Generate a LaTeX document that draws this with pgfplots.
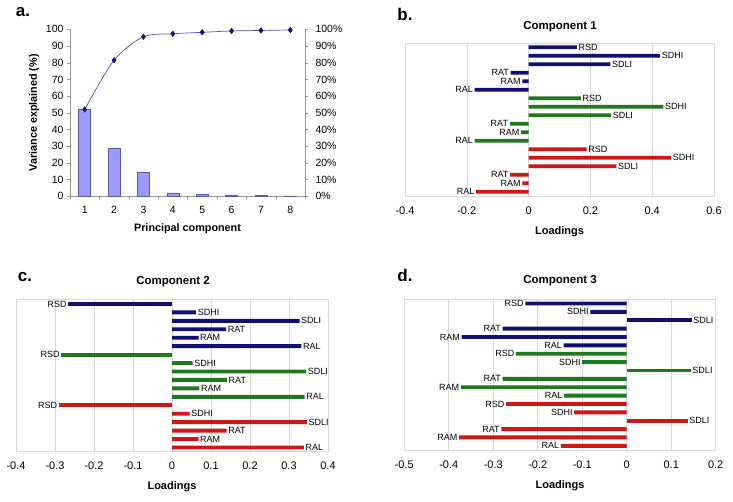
\documentclass[border=0pt]{standalone}
\usepackage{pgfplots}
\pgfplotsset{compat=1.18}
\usepackage{fontspec}
\setmainfont{Liberation Sans}
\definecolor{cnavy}{RGB}{16,16,112}
\definecolor{cgreen}{RGB}{30,120,30}
\definecolor{cred}{RGB}{210,20,20}
\definecolor{cbar}{RGB}{153,153,255}
\definecolor{cbaredge}{RGB}{90,90,170}
\definecolor{cline}{RGB}{80,80,200}
\definecolor{cgrid}{RGB}{215,215,215}
\definecolor{caxis}{RGB}{150,150,150}
\pgfplotsset{
 loadstyle/.style={
  scale only axis, xbar, bar width=3.9pt, bar shift=0pt,
  ymin=-18.5, ymax=-0.5, ytick=\empty,
  xmajorgrids, grid style={cgrid, line width=0.6pt},
  axis line style={cgrid, line width=0.6pt},
  xtick style={draw=none},
  tick label style={font=\fontsize{11}{11}\selectfont},
  xticklabel style={yshift=-7pt},
  /pgf/number format/assume math mode=true,
  xlabel={Loadings}, xlabel style={font=\fontsize{11}{11}\selectfont\bfseries, yshift=-5pt},
  nodes near coords, point meta=explicit symbolic,
  every node near coord/.append style={font=\fontsize{9}{9}\selectfont, inner sep=1.5pt, text=black},
  clip=false,
 },
 pos/.style={every node near coord/.append style={anchor=west}},
 neg/.style={every node near coord/.append style={anchor=east}},
 navybar/.style={fill=cnavy, draw=none},
 greenbar/.style={fill=cgreen, draw=none},
 redbar/.style={fill=cred, draw=none},
}
\begin{document}
\begin{tikzpicture}
\useasboundingbox (0,0) rectangle (733pt,501pt);
% ---------- panel a ----------
\node[font=\fontsize{17}{17}\selectfont\bfseries] at (23pt,489pt) {a.};
\begin{axis}[at={(70pt,304.7pt)}, anchor=south west, scale only axis,
  width=235pt, height=167pt, xmin=0.5, xmax=8.5, ymin=0, ymax=100,
  xtick={0.5,1.5,...,8.5}, xticklabels={},
  extra x ticks={1,2,3,4,5,6,7,8},
  extra x tick style={major tick length=0pt},
  ytick={0,10,...,100},
  axis x line*=bottom, axis y line*=left,
  axis line style={caxis, line width=0.6pt},
  tick align=outside, major tick length=3pt, tick style={caxis},
  tick label style={font=\fontsize{10.5}{10.5}\selectfont},
  xticklabel style={yshift=-6pt},
  /pgf/number format/assume math mode=true,
  xlabel={Principal component}, ylabel={Variance explained (\%)},
  label style={font=\fontsize{10.8}{10.8}\selectfont\bfseries},
  xlabel style={yshift=-1pt},
  clip=false]
\addplot[ybar, bar width=12pt, bar shift=0pt, fill=cbar, draw=cbaredge, line width=0.5pt]
 coordinates {(1,52) (2,29) (3,14.5) (4,2) (5,1) (6,0.8) (7,0.5) (8,0.3)};
\addplot[cline, line width=0.7pt, smooth, mark=diamond*, mark size=2.6pt,
  mark options={fill=cnavy, draw=cnavy}]
 coordinates {(1,52) (2,81.5) (3,95.5) (4,97.3) (5,98.2) (6,99) (7,99.3) (8,99.6)};
\end{axis}
\begin{axis}[at={(70pt,304.7pt)}, anchor=south west, scale only axis,
  width=235pt, height=167pt, xmin=0.5, xmax=8.5, ymin=0, ymax=100,
  axis x line=none, axis y line*=right, ytick={0,10,...,100},
  axis line style={caxis, line width=0.6pt},
  tick align=outside, major tick length=3pt, ytick style={caxis},
  yticklabel={\pgfmathprintnumber{\tick}\%},
  tick label style={font=\fontsize{10.5}{10.5}\selectfont},
  yticklabel style={xshift=4pt},
  /pgf/number format/assume math mode=true]
\addplot[draw=none] coordinates {(1,0)};
\end{axis}
% ---------- panel b ----------
\node[font=\fontsize{17}{17}\selectfont\bfseries] at (405pt,487pt) {b.};
\node[font=\fontsize{11.5}{11.5}\selectfont\bfseries] at (560pt,474pt) {Component 1};
\begin{axis}[loadstyle, at={(405pt,305pt)}, anchor=south west,
  width=309pt, height=153pt, xmin=-0.4, xmax=0.6,
  xtick={-0.4,-0.2,0,0.2,0.4,0.6}]
\addplot[navybar,pos] table[x=x, y=y, meta=l] {
x y l
0.156 -1 RSD
0.426 -2 SDHI
0.265 -3 SDLI
};
\addplot[navybar,neg] table[x=x, y=y, meta=l] {
x y l
-0.058 -4 RAT
-0.020 -5 RAM
-0.175 -6 RAL
};
\addplot[greenbar,pos] table[x=x, y=y, meta=l] {
x y l
0.169 -7 RSD
0.436 -8 SDHI
0.267 -9 SDLI
};
\addplot[greenbar,neg] table[x=x, y=y, meta=l] {
x y l
-0.061 -10 RAT
-0.024 -11 RAM
-0.175 -12 RAL
};
\addplot[redbar,pos] table[x=x, y=y, meta=l] {
x y l
0.188 -13 RSD
0.461 -14 SDHI
0.284 -15 SDLI
};
\addplot[redbar,neg] table[x=x, y=y, meta=l] {
x y l
-0.060 -16 RAT
-0.020 -17 RAM
-0.170 -18 RAL
};
\end{axis}
% ---------- panel c ----------
\node[font=\fontsize{17}{17}\selectfont\bfseries] at (25pt,224pt) {c.};
\node[font=\fontsize{11.5}{11.5}\selectfont\bfseries] at (173pt,219pt) {Component 2};
\begin{axis}[loadstyle, at={(16pt,49.3pt)}, anchor=south west,
  width=312pt, height=152pt, xmin=-0.4, xmax=0.4,
  xtick={-0.4,-0.3,-0.2,-0.1,0,0.1,0.2,0.3,0.4}]
\addplot[navybar,neg] table[x=x, y=y, meta=l] {
x y l
-0.266 -1 RSD
};
\addplot[navybar,pos] table[x=x, y=y, meta=l] {
x y l
0.062 -2 SDHI
0.327 -3 SDLI
0.139 -4 RAT
0.068 -5 RAM
0.332 -6 RAL
};
\addplot[greenbar,neg] table[x=x, y=y, meta=l] {
x y l
-0.284 -7 RSD
};
\addplot[greenbar,pos] table[x=x, y=y, meta=l] {
x y l
0.053 -8 SDHI
0.344 -9 SDLI
0.141 -10 RAT
0.070 -11 RAM
0.340 -12 RAL
};
\addplot[redbar,neg] table[x=x, y=y, meta=l] {
x y l
-0.290 -13 RSD
};
\addplot[redbar,pos] table[x=x, y=y, meta=l] {
x y l
0.045 -14 SDHI
0.346 -15 SDLI
0.140 -16 RAT
0.068 -17 RAM
0.338 -18 RAL
};
\end{axis}
% ---------- panel d ----------
\node[font=\fontsize{17}{17}\selectfont\bfseries] at (405pt,226pt) {d.};
\node[font=\fontsize{11.5}{11.5}\selectfont\bfseries] at (560pt,220pt) {Component 3};
\begin{axis}[loadstyle, at={(404.3pt,51pt)}, anchor=south west,
  width=311.4pt, height=150.7pt, xmin=-0.5, xmax=0.2,
  xtick={-0.5,-0.4,-0.3,-0.2,-0.1,0,0.1,0.2}]
\addplot[navybar,neg] table[x=x, y=y, meta=l] {
x y l
-0.228 -1 RSD
-0.082 -2 SDHI
-0.279 -4 RAT
-0.371 -5 RAM
-0.142 -6 RAL
};
\addplot[navybar,pos] table[x=x, y=y, meta=l] {
x y l
0.146 -3 SDLI
};
\addplot[greenbar,neg] table[x=x, y=y, meta=l] {
x y l
-0.249 -7 RSD
-0.100 -8 SDHI
-0.279 -10 RAT
-0.373 -11 RAM
-0.141 -12 RAL
};
\addplot[greenbar,pos] table[x=x, y=y, meta=l] {
x y l
0.144 -9 SDLI
};
\addplot[redbar,neg] table[x=x, y=y, meta=l] {
x y l
-0.271 -13 RSD
-0.118 -14 SDHI
-0.282 -16 RAT
-0.377 -17 RAM
-0.148 -18 RAL
};
\addplot[redbar,pos] table[x=x, y=y, meta=l] {
x y l
0.137 -15 SDLI
};
\end{axis}
\end{tikzpicture}
\end{document}
